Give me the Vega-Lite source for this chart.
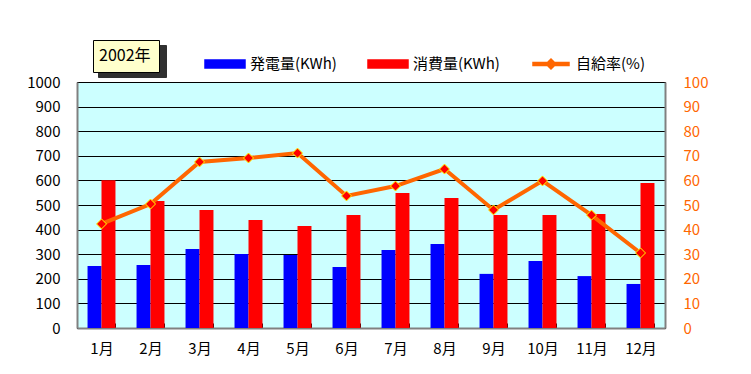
{
  "$schema": "https://vega.github.io/schema/vega-lite/v6.json",
  "width": 588,
  "height": 246,
  "autosize": {"type": "none"},
  "padding": {"left": 77, "top": 82, "right": 86, "bottom": 46},
  "background": "white",
  "config": {
    "font": "Noto Sans CJK JP",
    "view": {"fill": "#CCFFFF", "stroke": "#000000", "strokeWidth": 1},
    "axis": {"labelFont": "Noto Sans CJK JP", "labelFontSize": 15, "title": null}
  },
  "datasets": {
    "energy": [
      {"month": "1月", "series": "発電量(KWh)", "kwh": 252, "year": "2002年"},
      {"month": "1月", "series": "消費量(KWh)", "kwh": 601, "year": "2002年"},
      {"month": "2月", "series": "発電量(KWh)", "kwh": 256, "year": "2002年"},
      {"month": "2月", "series": "消費量(KWh)", "kwh": 516, "year": "2002年"},
      {"month": "3月", "series": "発電量(KWh)", "kwh": 321, "year": "2002年"},
      {"month": "3月", "series": "消費量(KWh)", "kwh": 480, "year": "2002年"},
      {"month": "4月", "series": "発電量(KWh)", "kwh": 301, "year": "2002年"},
      {"month": "4月", "series": "消費量(KWh)", "kwh": 439, "year": "2002年"},
      {"month": "5月", "series": "発電量(KWh)", "kwh": 297, "year": "2002年"},
      {"month": "5月", "series": "消費量(KWh)", "kwh": 415, "year": "2002年"},
      {"month": "6月", "series": "発電量(KWh)", "kwh": 248, "year": "2002年"},
      {"month": "6月", "series": "消費量(KWh)", "kwh": 459, "year": "2002年"},
      {"month": "7月", "series": "発電量(KWh)", "kwh": 317, "year": "2002年"},
      {"month": "7月", "series": "消費量(KWh)", "kwh": 549, "year": "2002年"},
      {"month": "8月", "series": "発電量(KWh)", "kwh": 341, "year": "2002年"},
      {"month": "8月", "series": "消費量(KWh)", "kwh": 528, "year": "2002年"},
      {"month": "9月", "series": "発電量(KWh)", "kwh": 220, "year": "2002年"},
      {"month": "9月", "series": "消費量(KWh)", "kwh": 459, "year": "2002年"},
      {"month": "10月", "series": "発電量(KWh)", "kwh": 272, "year": "2002年"},
      {"month": "10月", "series": "消費量(KWh)", "kwh": 459, "year": "2002年"},
      {"month": "11月", "series": "発電量(KWh)", "kwh": 211, "year": "2002年"},
      {"month": "11月", "series": "消費量(KWh)", "kwh": 463, "year": "2002年"},
      {"month": "12月", "series": "発電量(KWh)", "kwh": 179, "year": "2002年"},
      {"month": "12月", "series": "消費量(KWh)", "kwh": 589, "year": "2002年"}
    ],
    "rate": [
      {"month": "1月", "series": "自給率(%)", "rate": 42.3, "year": "2002年"},
      {"month": "2月", "series": "自給率(%)", "rate": 50.4, "year": "2002年"},
      {"month": "3月", "series": "自給率(%)", "rate": 67.5, "year": "2002年"},
      {"month": "4月", "series": "自給率(%)", "rate": 69.1, "year": "2002年"},
      {"month": "5月", "series": "自給率(%)", "rate": 71.1, "year": "2002年"},
      {"month": "6月", "series": "自給率(%)", "rate": 53.7, "year": "2002年"},
      {"month": "7月", "series": "自給率(%)", "rate": 57.7, "year": "2002年"},
      {"month": "8月", "series": "自給率(%)", "rate": 64.6, "year": "2002年"},
      {"month": "9月", "series": "自給率(%)", "rate": 48.0, "year": "2002年"},
      {"month": "10月", "series": "自給率(%)", "rate": 59.8, "year": "2002年"},
      {"month": "11月", "series": "自給率(%)", "rate": 45.9, "year": "2002年"},
      {"month": "12月", "series": "自給率(%)", "rate": 30.5, "year": "2002年"}
    ]
  },
  "encoding": {
    "x": {
      "field": "month",
      "type": "ordinal",
      "scale": {
        "domain": ["1月", "2月", "3月", "4月", "5月", "6月", "7月", "8月", "9月", "10月", "11月", "12月"],
        "paddingInner": 0.43,
        "paddingOuter": 0.215
      },
      "axis": {
        "title": null,
        "labelAngle": 0,
        "labelColor": "#000000",
        "tickBand": "extent",
        "ticks": true,
        "tickSize": -5,
        "tickWidth": 1,
        "tickColor": "#000000",
        "labelPadding": 18,
        "domainColor": "#808080",
        "domainWidth": 2,
        "grid": false
      }
    }
  },
  "layer": [
    {
      "data": {"name": "energy"},
      "mark": {"type": "bar"},
      "encoding": {
        "xOffset": {
          "field": "series",
          "type": "nominal",
          "scale": {"domain": ["発電量(KWh)", "消費量(KWh)"], "paddingInner": 0, "paddingOuter": 0}
        },
        "y": {
          "field": "kwh",
          "type": "quantitative",
          "scale": {"domain": [0, 1000]},
          "axis": {
            "title": null,
            "values": [0, 100, 200, 300, 400, 500, 600, 700, 800, 900, 1000],
            "format": "d",
            "grid": true,
            "gridColor": "#000000",
            "gridOpacity": 1,
            "gridWidth": 1,
            "ticks": false,
            "labelPadding": 17,
            "labelColor": "#000000",
            "domainColor": "#808080",
            "domainWidth": 2
          }
        },
        "color": {
          "field": "series",
          "type": "nominal",
          "scale": {
            "domain": ["発電量(KWh)", "消費量(KWh)", "自給率(%)"],
            "range": ["#0000FF", "#FF0000", "#FF6600"]
          },
          "legend": {
            "title": null,
            "orient": "none",
            "legendX": 127,
            "legendY": -39,
            "direction": "horizontal",
            "columns": 3,
            "gridAlign": "all",
            "columnPadding": 28,
            "padding": 0,
            "symbolSize": 1600,
            "labelOffset": 4,
            "labelFontSize": 15,
            "labelFont": "Noto Sans CJK JP",
            "labelColor": "#000000",
            "encode": {
              "symbols": {
                "update": {
                  "shape": {"signal": "datum.value === '自給率(%)' ? 'M-0.9,-0.08H0.9V0.08H-0.9Z M-0.25,0L0,-0.25L0.25,0L0,0.25Z' : 'M-1,-0.2H1V0.2H-1Z'"},
                  "fill": {"scale": "color", "field": "value"},
                  "stroke": {"value": "transparent"},
                  "opacity": {"value": 1}
                }
              }
            }
          }
        },
        "strokeDash": {
          "field": "year",
          "type": "nominal",
          "scale": {"range": [[1, 0]]},
          "legend": {
            "title": null,
            "orient": "none",
            "legendX": 21,
            "legendY": -37,
            "zindex": 0,
            "fillColor": "#303030",
            "strokeColor": "#303030",
            "padding": 8,
            "symbolOpacity": 0,
            "symbolStrokeWidth": 0,
            "labelOffset": 36,
            "labelFontSize": 16,
            "labelFont": "Noto Sans CJK JP",
            "labelColor": "#303030",
            "labelExpr": "''",
            "encode": {"symbols": {"update": {"size": {"value": 0}, "opacity": {"value": 0}}}}
          }
        }
      }
    },
    {
      "data": {"name": "rate"},
      "encoding": {
        "y": {
          "field": "rate",
          "type": "quantitative",
          "scale": {"domain": [0, 100]},
          "axis": {
            "title": null,
            "orient": "right",
            "values": [0, 10, 20, 30, 40, 50, 60, 70, 80, 90, 100],
            "grid": false,
            "ticks": false,
            "labelPadding": 18,
            "labelColor": "#FF6600",
            "domainColor": "#808080",
            "domainWidth": 2
          }
        }
      },
      "layer": [
        {
          "mark": {"type": "line", "strokeWidth": 4},
          "encoding": {
            "color": {"field": "series", "type": "nominal"}
          }
        },
        {
          "mark": {"type": "point", "filled": true, "fill": "#FF0000", "stroke": "#FFFF00", "strokeWidth": 1, "size": 100, "opacity": 1},
          "encoding": {
            "shape": {
              "field": "year",
              "type": "nominal",
              "scale": {"range": ["diamond"]},
              "legend": {
                "title": null,
                "orient": "none",
                "legendX": 16,
                "legendY": -42,
                "zindex": 1,
                "fillColor": "#FFFFCC",
                "strokeColor": "#000000",
                "padding": 8,
                "symbolOpacity": 0,
                "symbolStrokeWidth": 0,
                "labelOffset": -18,
                "labelFontSize": 16,
                "labelFont": "Noto Sans CJK JP",
                "labelColor": "#000000",
                "encode": {"symbols": {"update": {"size": {"value": 0}, "opacity": {"value": 0}}}}
              }
            }
          }
        }
      ]
    }
  ],
  "resolve": {"scale": {"y": "independent"}}
}
